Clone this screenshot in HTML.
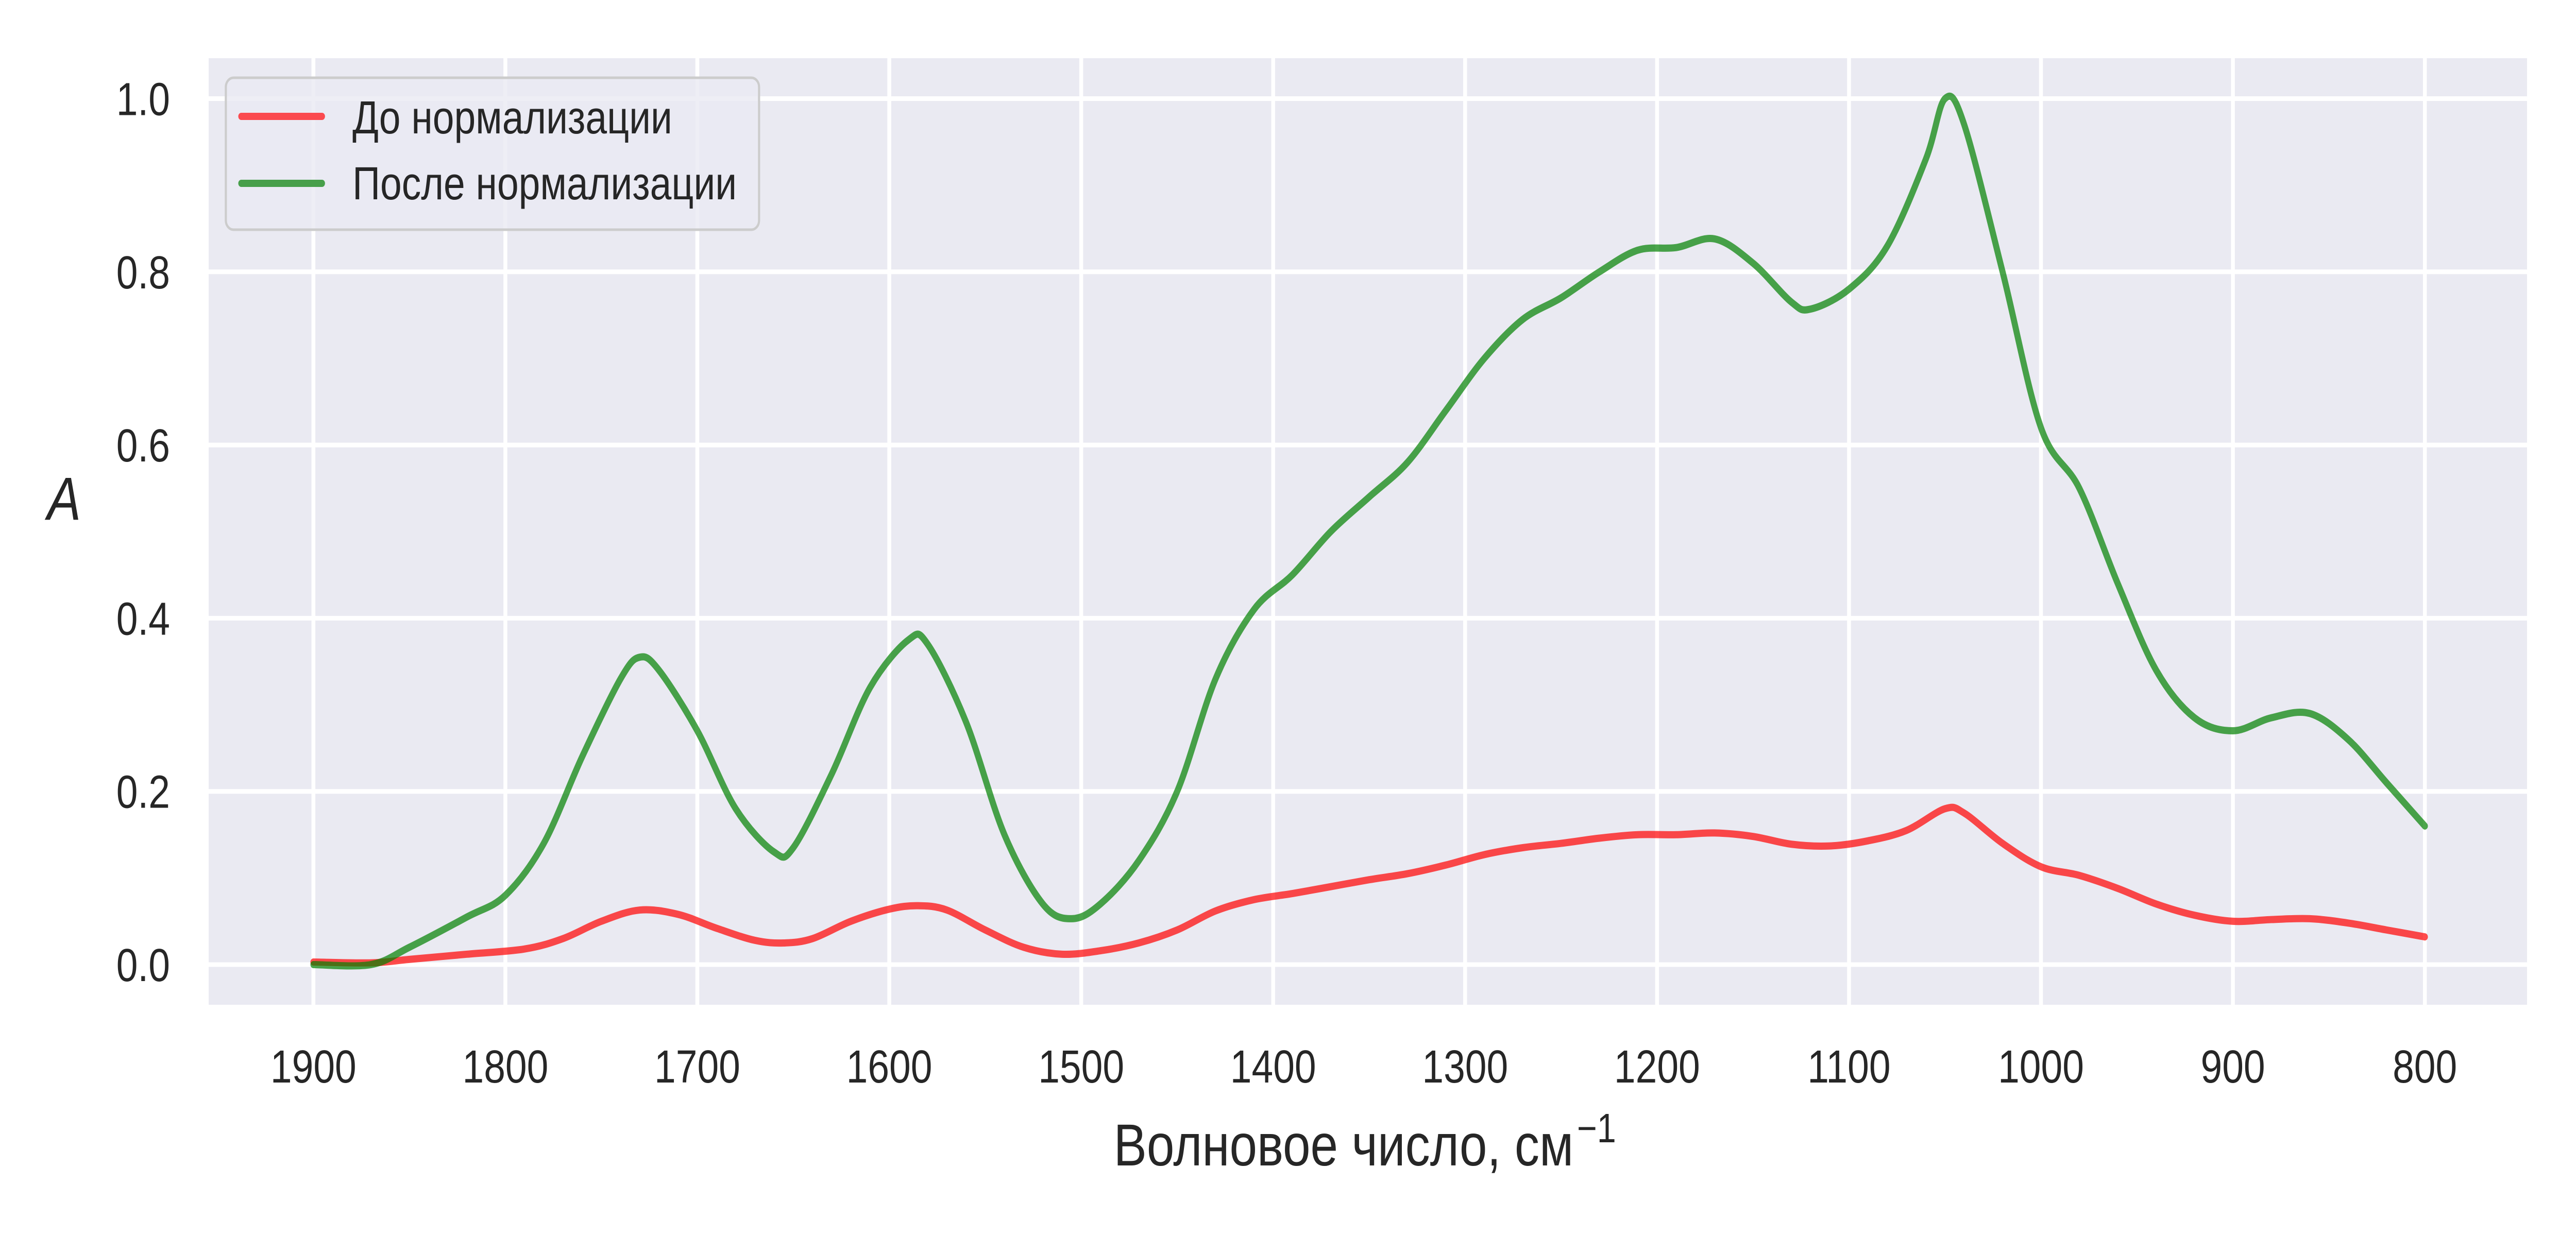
<!DOCTYPE html>
<html><head><meta charset="utf-8"><style>
html,body{margin:0;padding:0;background:#fff;overflow:hidden;width:100vw;height:100vh;}
svg{display:block;width:100vw;height:100vh;font-family:"Liberation Sans",Arial,sans-serif;}
</style></head><body>
<svg id="chart" viewBox="0 0 6000 2400" preserveAspectRatio="none" xmlns="http://www.w3.org/2000/svg">
<rect x="0" y="0" width="6000" height="2400" fill="#ffffff"/>
<rect x="486" y="113" width="5400" height="1838" fill="#eaeaf2"/>
<g id="grid"></g>
<g id="series"></g>
<g id="ticks"></g>
<text x="2594" y="2263" font-size="115" fill="#262626"><tspan textLength="1071" lengthAdjust="spacingAndGlyphs">Волновое число, см</tspan><tspan dx="8" dy="-45" font-size="80">−1</tspan></text>
<text x="110" y="1009" font-size="118" font-style="italic" fill="#262626">A</text>
<g>
<rect x="526" y="151" width="1242" height="295" rx="18" fill="#eaeaf2" fill-opacity="0.8" stroke="#cccccc" stroke-width="5"/>
<line x1="562" y1="226" x2="750" y2="226" stroke="#fb4a4f" stroke-width="14" stroke-linecap="round"/>
<text x="821" y="259" font-size="90" fill="#262626">До нормализации</text>
<line x1="562" y1="356" x2="750" y2="356" stroke="#479f4a" stroke-width="14" stroke-linecap="round"/>
<text x="821" y="387" font-size="90" fill="#262626">После нормализации</text>
</g>
</svg>
<script>
const xTicks = [1900,1800,1700,1600,1500,1400,1300,1200,1100,1000,900,800];
const yTicks = [0.0,0.2,0.4,0.6,0.8,1.0];
const yTickLabels = ["0.0","0.2","0.4","0.6","0.8","1.0"];
const wavenumbers = [1900,1870,1850,1820,1800,1780,1760,1740,1730,1720,1700,1680,1660,1650,1630,1610,1590,1580,1560,1540,1520,1505,1490,1470,1450,1430,1410,1390,1370,1350,1330,1310,1290,1270,1250,1230,1210,1190,1170,1150,1130,1120,1100,1080,1060,1050,1040,1020,1000,980,960,940,920,900,880,860,840,820,800];
const afterNorm = [0.0,0.0,0.02,0.055,0.08,0.14,0.24,0.33,0.355,0.34,0.27,0.18,0.13,0.135,0.22,0.32,0.375,0.37,0.28,0.15,0.07,0.053,0.07,0.12,0.2,0.33,0.41,0.45,0.5,0.54,0.58,0.64,0.7,0.745,0.77,0.8,0.825,0.828,0.838,0.81,0.765,0.757,0.78,0.83,0.93,1.0,0.97,0.8,0.62,0.55,0.44,0.34,0.285,0.27,0.285,0.29,0.26,0.21,0.16];
const redWn = [1900,1870,1850,1820,1790,1770,1750,1730,1710,1690,1670,1655,1640,1620,1600,1585,1570,1550,1530,1510,1490,1470,1450,1430,1410,1390,1370,1350,1330,1310,1290,1270,1250,1230,1210,1190,1170,1150,1130,1110,1090,1070,1050,1040,1020,1000,980,960,940,920,900,880,860,840,820,800];
const beforeNorm = [0.003,0.002,0.006,0.012,0.018,0.03,0.05,0.063,0.058,0.042,0.028,0.025,0.03,0.05,0.064,0.068,0.063,0.04,0.02,0.012,0.016,0.025,0.04,0.062,0.075,0.082,0.09,0.098,0.105,0.115,0.127,0.135,0.14,0.146,0.15,0.15,0.152,0.148,0.139,0.137,0.143,0.155,0.18,0.175,0.14,0.113,0.103,0.088,0.07,0.057,0.05,0.052,0.053,0.048,0.04,0.032];

const NS="http://www.w3.org/2000/svg";
const X = v => 730 + (1900 - v) * 4.4709;
const Y = v => 1873 - v * 1681.5;
function mk(tag, attrs){const e=document.createElementNS(NS,tag);for(const k in attrs)e.setAttribute(k,attrs[k]);return e;}
const grid=document.getElementById('grid'), ticks=document.getElementById('ticks'), series=document.getElementById('series');
xTicks.forEach(t=>{
  const l=mk('line',{x1:X(t),x2:X(t),y1:113,y2:1951,stroke:'#ffffff','stroke-width':9});
  
  
  grid.appendChild(l);
  const tx=mk('text',{x:X(t),y:2102,'font-size':90,'text-anchor':'middle',fill:'#262626'});
  tx.textContent=t;
  
  
  ticks.appendChild(tx);
});
yTicks.forEach((t,i)=>{
  const l=mk('line',{x1:486,x2:5886,y1:Y(t),y2:Y(t),stroke:'#ffffff','stroke-width':9});
  
  
  grid.appendChild(l);
  const tx=mk('text',{x:396,y:Y(t)+32,'font-size':90,'text-anchor':'end',fill:'#262626'});
  tx.textContent=yTickLabels[i];
  
  
  ticks.appendChild(tx);
});
function smooth(xs, ys){
  const p=xs.map((x,i)=>[X(x),Y(ys[i])]);
  let d=`M${p[0][0]},${p[0][1]}`;
  for(let i=0;i<p.length-1;i++){
    const p0=p[i-1]||p[i],p1=p[i],p2=p[i+1],p3=p[i+2]||p[i+1];
    const c1=[p1[0]+(p2[0]-p0[0])/6,p1[1]+(p2[1]-p0[1])/6];
    const c2=[p2[0]-(p3[0]-p1[0])/6,p2[1]-(p3[1]-p1[1])/6];
    d+=` C${c1[0]},${c1[1]} ${c2[0]},${c2[1]} ${p2[0]},${p2[1]}`;
  }
  return d;
}
const red=mk('path',{d:smooth(redWn,beforeNorm),fill:'none',stroke:'#ff0000','stroke-opacity':0.7,'stroke-width':14,'stroke-linecap':'round','stroke-linejoin':'round'});


series.appendChild(red);
const green=mk('path',{d:smooth(wavenumbers,afterNorm),fill:'none',stroke:'#008000','stroke-opacity':0.7,'stroke-width':14,'stroke-linecap':'round','stroke-linejoin':'round'});


series.appendChild(green);
</script>
</body></html>
